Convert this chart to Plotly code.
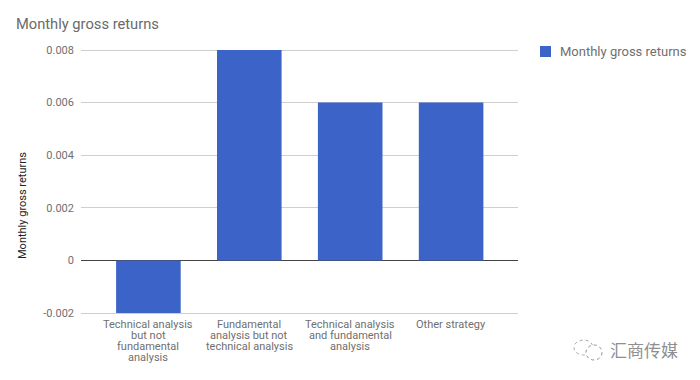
import plotly.graph_objects as go

categories = [
    "Technical analysis but not fundamental analysis",
    "Fundamental analysis but not technical analysis",
    "Technical analysis and fundamental analysis",
    "Other strategy",
]
category_lines = [
    ["Technical analysis", "but not", "fundamental", "analysis"],
    ["Fundamental", "analysis but not", "technical analysis"],
    ["Technical analysis", "and fundamental", "analysis"],
    ["Other strategy"],
]
values = [-0.002, 0.008, 0.006, 0.006]
tick_vals = [-0.002, 0, 0.002, 0.004, 0.006, 0.008]
tick_text = ["-0.002", "0", "0.002", "0.004", "0.006", "0.008"]
series_name = "Monthly gross returns"
title_text = "Monthly gross returns"
watermark = "汇商传媒"

OFF = 8  # page body margin
W, H = 700 - OFF, 380 - OFF
L, R, T, B = 81, 518, 47, 316
FONT = "Roboto, Arial, sans-serif"
BAR = "#3b63c8"
GREY = "#6f6f6f"


def px(x):
    return (x - L) / (R - L)


def py(y):
    return (B - y) / (B - T)


fig = go.Figure(
    go.Bar(
        x=categories, y=values, name=series_name, width=0.64,
        marker=dict(color=BAR, line=dict(width=0)),
        showlegend=False,
    )
)
fig.update_layout(
    width=W, height=H, autosize=False,
    paper_bgcolor="#ffffff", plot_bgcolor="#ffffff",
    margin=dict(l=L - OFF, r=W + OFF - R, t=T - OFF, b=H + OFF - B, pad=0),
    font=dict(family=FONT, size=11, color=GREY),
    title=dict(text=title_text, x=(16 - OFF) / W, xanchor="left", y=1 - (24 - OFF) / H, yanchor="middle",
               font=dict(size=14.7, color="#6a6a6a", family=FONT)),
    showlegend=False,
    xaxis=dict(range=[-0.668, 3.663], type="category", showgrid=False, ticks="",
               showticklabels=False, showline=False, zeroline=False),
    yaxis=dict(range=[-0.002114, 0.008114], tickvals=tick_vals, ticktext=tick_text,
               showgrid=True, gridcolor="#cfcfcf", gridwidth=1,
               zeroline=True, zerolinecolor="#444444", zerolinewidth=1.2,
               tickfont=dict(size=11, color=GREY, family=FONT), automargin=False,
               ticklabelstandoff=6, showline=False, ticks="", ticklen=0),
)

for cat, lines in zip(categories, category_lines):
    for i, line in enumerate(lines):
        fig.add_annotation(text=line, x=cat, xref="x", y=py(324 + 11 * i), yref="paper",
                           showarrow=False, xanchor="center", yanchor="middle",
                           font=dict(size=11, color=GREY, family=FONT))

fig.add_annotation(text=series_name, textangle=-90, xref="paper", yref="paper",
                   x=px(22), y=py(205), showarrow=False, xanchor="center", yanchor="middle",
                   font=dict(size=11, color="#222222", family=FONT))

# legend swatch and label
fig.add_shape(type="rect", xref="paper", yref="paper", x0=px(540), x1=px(551), y0=py(46), y1=py(57),
              fillcolor=BAR, line=dict(width=0))
fig.add_annotation(text=series_name, xref="paper", yref="paper", x=px(558), y=py(51.5),
                   xanchor="left", yanchor="middle", showarrow=False,
                   font=dict(size=13, color=GREY, family=FONT))

# watermark
fig.add_annotation(text=watermark, xref="paper", yref="paper", x=px(644), y=py(349), showarrow=False,
                   xanchor="center", yanchor="middle",
                   font=dict(size=17, color="#8f8f8f", family="Noto Sans CJK SC"))
fig.add_shape(type="circle", xref="paper", yref="paper", x0=px(574), x1=px(593), y0=py(340), y1=py(355),
              line=dict(color="#a8a8a8", width=1, dash="dot"))
fig.add_shape(type="circle", xref="paper", yref="paper", x0=px(586), x1=px(602), y0=py(345), y1=py(360),
              fillcolor="#ffffff", line=dict(color="#8f8f8f", width=1, dash="dot"))

fig.write_html("out.html")
